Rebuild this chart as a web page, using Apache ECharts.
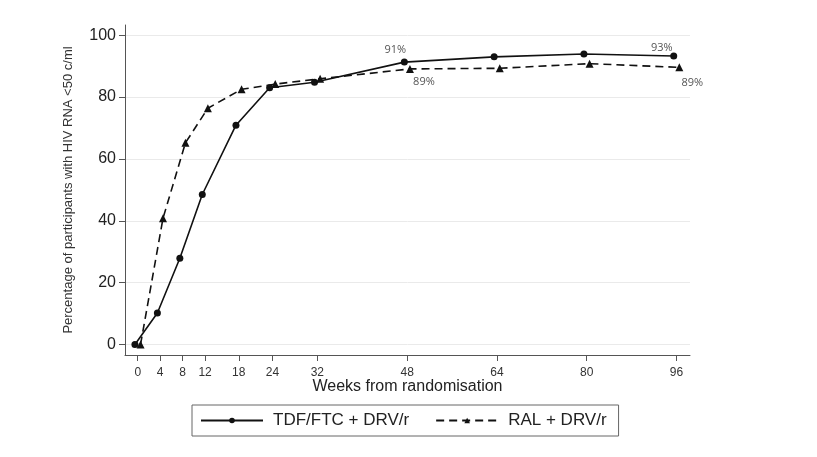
<!DOCTYPE html>
<html>
<head>
<meta charset="utf-8">
<script src="https://cdn.jsdelivr.net/npm/echarts@6/dist/echarts.min.js"></script>
<style>
  html, body { margin: 0; padding: 0; background: #fff; }
  #chart { width: 817px; height: 457px; }
</style>
</head>
<body>
<div id="chart"></div>
<script>
// weeks from randomisation (tick labels and visit weeks)
const weeks = [0, 4, 8, 12, 18, 24, 32, 48, 64, 80, 96];
const yTicks = [0, 20, 40, 60, 80, 100];
// the two arms are drawn half a week apart (as in the original figure)
const tdfShift = -0.5;
const ralShift = 0.5;
const tdfValues = [0, 10.2, 27.9, 48.5, 70.9, 83.0, 84.8, 91.3, 93.0, 93.9, 93.3];
const ralValues = [0, 40.8, 65.2, 76.4, 82.5, 84.2, 85.9, 89.1, 89.3, 90.8, 89.6];
// percentage labels at week 48 and 96
const tdfLabels = { 48: '91%', 96: '93%' };
const ralLabels = { 48: '89%', 96: '89%' };

const labelStyle = { fontFamily: 'Open Sans', fontSize: 11, color: '#555' };

function buildData(values, shift, labels, placeLabel) {
    return weeks.map(function (w, i) {
        var item = { value: [w + shift, values[i]] };
        if (labels[w]) {
            item.label = Object.assign({ show: true, formatter: labels[w] }, labelStyle, placeLabel(w));
        }
        return item;
    });
}

var myChart = echarts.init(document.getElementById('chart'));
var option = {
    backgroundColor: '#fff',
    animation: false,
    grid: { left: 125, right: 127, top: 25, bottom: 102 },
    xAxis: {
        type: 'value',
        min: -2.27,
        max: 98.4,
        name: 'Weeks from randomisation',
        nameLocation: 'middle',
        nameGap: 24,
        nameMoveOverlap: false,
        nameTextStyle: { fontFamily: 'Liberation Sans', fontSize: 16, color: '#222' },
        axisLine: { onZero: false, lineStyle: { color: '#555', width: 1 } },
        axisTick: { show: true, length: 6, customValues: weeks, lineStyle: { color: '#555' } },
        axisLabel: { customValues: weeks, fontFamily: 'Liberation Sans', fontSize: 12, color: '#333', margin: 12 },
        splitLine: { show: false }
    },
    yAxis: {
        type: 'value',
        min: -3.4,
        max: 103.3,
        name: 'Percentage of participants with HIV RNA <50 c/ml',
        nameLocation: 'middle',
        nameGap: 50,
        nameTextStyle: { fontFamily: 'Liberation Sans', fontSize: 13, color: '#333' },
        axisLine: { show: true, onZero: false, lineStyle: { color: '#555', width: 1 } },
        axisTick: { show: true, length: 6, customValues: yTicks, lineStyle: { color: '#555' } },
        axisLabel: { customValues: yTicks, fontFamily: 'Liberation Sans', fontSize: 16, color: '#222', margin: 9 },
        splitLine: { show: true, lineStyle: { color: '#eaeaea', width: 1 } }
    },
    legend: {
        left: 192,
        top: 405,
        orient: 'horizontal',
        itemWidth: 62,
        itemHeight: 7,
        itemGap: 26,
        padding: [7, 12, 7, 8],
        borderColor: '#666',
        borderWidth: 1,
        textStyle: { fontFamily: 'Liberation Sans', fontSize: 17, color: '#222', padding: [0, 0, 0, 5] },
        data: ['TDF/FTC + DRV/r', 'RAL + DRV/r']
    },
    series: [
        {
            name: 'TDF/FTC + DRV/r',
            type: 'line',
            symbol: 'circle',
            symbolSize: 7,
            color: '#111',
            lineStyle: { color: '#111', width: 1.6, type: 'solid' },
            itemStyle: { color: '#111' },
            data: buildData(tdfValues, tdfShift, tdfLabels, function (w) {
                return w === 48 ? { position: 'top', offset: [-9, 2] } : { position: 'top', offset: [-12, 6] };
            })
        },
        {
            name: 'RAL + DRV/r',
            type: 'line',
            symbol: 'triangle',
            symbolSize: 8,
            color: '#111',
            lineStyle: { color: '#111', width: 1.6, type: [8, 5] },
            itemStyle: { color: '#111' },
            data: buildData(ralValues, ralShift, ralLabels, function (w) {
                return w === 48 ? { position: 'bottom', offset: [14, -2] } : { position: 'bottom', offset: [13, 1] };
            })
        }
    ]
};
option && myChart.setOption(option);
</script>
</body>
</html>
